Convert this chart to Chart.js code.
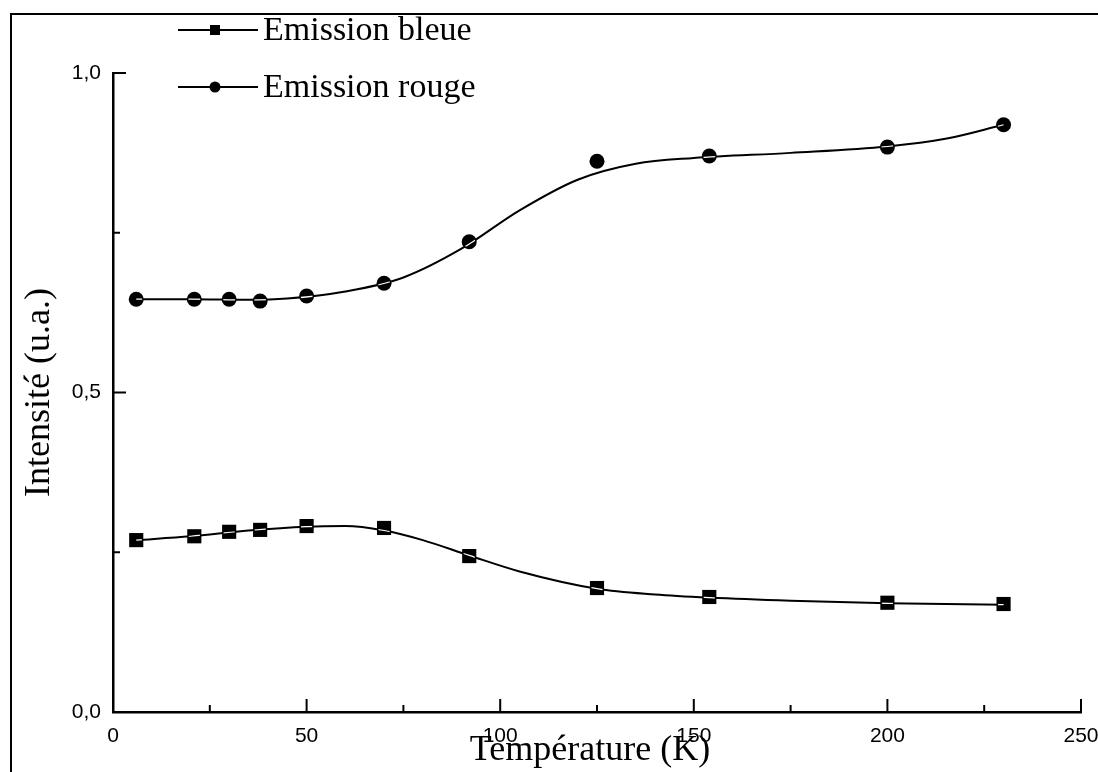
<!DOCTYPE html>
<html>
<head>
<meta charset="utf-8">
<script src="https://cdn.jsdelivr.net/npm/chart.js@4.4.1/dist/chart.umd.min.js"></script>
<style>
  html, body { margin: 0; padding: 0; background: #fff; }
  #wrap { position: relative; width: 1098px; height: 772px; overflow: hidden; }
  #frame { position: absolute; left: 10px; top: 13px; width: 1200px; height: 900px;
           border-left: 2px solid #000; border-top: 2px solid #000; }
  canvas { position: absolute; left: 0; top: 0; }
</style>
</head>
<body>
<div id="wrap">
  <div id="frame"></div>
  <canvas id="c" width="1098" height="772"></canvas>
</div>
<script>
// ---- Data ----
const temperatures = [6, 21, 30, 38, 50, 70, 92, 125, 154, 200, 230];
const blueValues   = [0.269, 0.275, 0.282, 0.285, 0.291, 0.288, 0.244, 0.194, 0.180, 0.171, 0.169];
const redValues    = [0.646, 0.646, 0.646, 0.643, 0.651, 0.671, 0.736, 0.862, 0.870, 0.884, 0.919];

// fitted (smoothed) curves as drawn in the figure
const fitBlueT = [6, 20, 35, 50, 60, 70, 80, 92, 105, 125, 140, 154, 175, 200, 230];
const fitBlue  = [0.269, 0.275, 0.284, 0.290, 0.291, 0.284, 0.269, 0.245, 0.220, 0.193, 0.184, 0.179, 0.174, 0.170, 0.168];
const fitRedT  = [6, 20, 35, 45, 60, 75, 90, 105, 120, 135, 150, 175, 200, 215, 230];
const fitRed   = [0.646, 0.646, 0.645, 0.647, 0.658, 0.680, 0.725, 0.785, 0.833, 0.858, 0.867, 0.875, 0.885, 0.897, 0.919];

const xTicks = [0, 50, 100, 150, 200, 250];
const xMinorTicks = [25, 75, 125, 175, 225];
const yTicks = [0, 0.5, 1.0];
const yMinorTicks = [0.25, 0.75];

const labels = ['Emission bleue', 'Emission rouge'];
const xTitle = 'Température (K)';
const yTitle = 'Intensité (u.a.)';

const pts = (xs, ys) => xs.map((x, i) => ({ x: x, y: ys[i] }));
const fmt = v => v.toFixed(1).replace('.', ',');

const serif = '"Liberation Serif", "Times New Roman", serif';
const sans = '"Liberation Sans", Arial, sans-serif';

// white streak of the fit curve through the markers (as in the scanned figure)
const streak = {
  id: 'streak',
  afterDatasetsDraw(chart) {
    const ctx = chart.ctx;
    [[0, 2, 'rect'], [1, 3, 'circle']].forEach(([fi, si, shape]) => {
      const line = chart.getDatasetMeta(fi).data;
      const marks = chart.getDatasetMeta(si).data;
      const r = chart.data.datasets[si].pointRadius;
      ctx.save();
      ctx.beginPath();
      marks.forEach(p => {
        if (shape === 'rect') { const s = r * Math.SQRT1_2 - 1.5; ctx.rect(p.x - s, p.y - s, 2 * s, 2 * s); }
        else { ctx.moveTo(p.x + r - 1.5, p.y); ctx.arc(p.x, p.y, r - 1.5, 0, Math.PI * 2); }
      });
      ctx.clip();
      ctx.strokeStyle = '#fff';
      ctx.lineWidth = 1.2;
      ctx.beginPath();
      line.forEach((p, k) => {
        if (k === 0) ctx.moveTo(p.x, p.y);
        else { const q = line[k - 1]; ctx.bezierCurveTo(q.cp2x, q.cp2y, p.cp1x, p.cp1y, p.x, p.y); }
      });
      ctx.stroke();
      ctx.restore();
    });
  }
};

const decor = {
  id: 'decor',
  afterDraw(chart) {
    const ctx = chart.ctx;
    const xs = chart.scales.x, ys = chart.scales.y;
    const area = chart.chartArea;
    ctx.save();
    ctx.strokeStyle = '#000';
    ctx.lineWidth = 2;
    // inward ticks
    xTicks.forEach(v => { const p = xs.getPixelForValue(v); ctx.beginPath(); ctx.moveTo(p, area.bottom); ctx.lineTo(p, area.bottom - 13); ctx.stroke(); });
    xMinorTicks.forEach(v => { const p = xs.getPixelForValue(v); ctx.beginPath(); ctx.moveTo(p, area.bottom); ctx.lineTo(p, area.bottom - 7); ctx.stroke(); });
    yTicks.forEach(v => { const p = ys.getPixelForValue(v); ctx.beginPath(); ctx.moveTo(area.left, p); ctx.lineTo(area.left + 13, p); ctx.stroke(); });
    yMinorTicks.forEach(v => { const p = ys.getPixelForValue(v); ctx.beginPath(); ctx.moveTo(area.left, p); ctx.lineTo(area.left + 7, p); ctx.stroke(); });

    // axis titles
    ctx.fillStyle = '#000';
    ctx.font = '36px ' + serif;
    ctx.textAlign = 'center';
    ctx.textBaseline = 'middle';
    ctx.fillText(xTitle, 590, 751);
    ctx.save();
    ctx.translate(40, ys.getPixelForValue(0.5));
    ctx.rotate(-Math.PI / 2);
    ctx.fillText(yTitle, 0, 0);
    ctx.restore();

    // legend (line - marker - line)
    const rows = [30, 87];
    const markers = ['rect', 'circle'];
    ctx.font = '34px ' + serif;
    ctx.textAlign = 'left';
    labels.forEach((lab, i) => {
      const y = rows[i];
      ctx.lineWidth = 2;
      ctx.beginPath(); ctx.moveTo(178, y); ctx.lineTo(258, y); ctx.stroke();
      if (markers[i] === 'rect') { ctx.fillRect(210, y - 5, 10, 10); }
      else { ctx.beginPath(); ctx.arc(215, y, 5.5, 0, Math.PI * 2); ctx.fill(); }
      ctx.fillText(lab, 263, y + 1);
    });
    ctx.restore();
  }
};

new Chart(document.getElementById('c'), {
  type: 'scatter',
  data: {
    datasets: [
      { label: labels[0] + ' fit', data: pts(fitBlueT, fitBlue), showLine: true, borderColor: '#000', borderWidth: 2,
        pointRadius: 0, cubicInterpolationMode: 'monotone', order: 3 },
      { label: labels[1] + ' fit', data: pts(fitRedT, fitRed), showLine: true, borderColor: '#000', borderWidth: 2,
        pointRadius: 0, cubicInterpolationMode: 'monotone', order: 3 },
      { label: labels[0], data: pts(temperatures, blueValues), pointStyle: 'rect', pointRadius: 10,
        backgroundColor: '#000', borderColor: '#000', borderWidth: 0, order: 1 },
      { label: labels[1], data: pts(temperatures, redValues), pointStyle: 'circle', pointRadius: 7.5,
        backgroundColor: '#000', borderColor: '#000', borderWidth: 0, order: 1 }
    ]
  },
  options: {
    responsive: false,
    animation: false,
    layout: { padding: { left: 0, top: 73, right: 17, bottom: 0 } },
    plugins: { legend: { display: false }, tooltip: { enabled: false } },
    scales: {
      x: {
        type: 'linear', min: 0, max: 250,
        afterFit: s => { s.height = 60; s.paddingLeft = 0; s.paddingRight = 0; },
        afterBuildTicks: s => { s.ticks = xTicks.map(v => ({ value: v })); },
        grid: { display: false, drawTicks: false },
        border: { display: true, color: '#000', width: 2.5 },
        ticks: { padding: 12, color: '#000', font: { family: sans, size: 21 }, maxRotation: 0, callback: v => String(v) }
      },
      y: {
        type: 'linear', min: 0, max: 1,
        afterFit: s => { s.width = 113; s.paddingTop = 0; s.paddingBottom = 0; },
        afterBuildTicks: s => { s.ticks = yTicks.map(v => ({ value: v })); },
        grid: { display: false, drawTicks: false },
        border: { display: true, color: '#000', width: 2.5 },
        ticks: { padding: 12, color: '#000', font: { family: sans, size: 21 }, callback: v => fmt(v) }
      }
    }
  },
  plugins: [streak, decor]
});
</script>
</body>
</html>
